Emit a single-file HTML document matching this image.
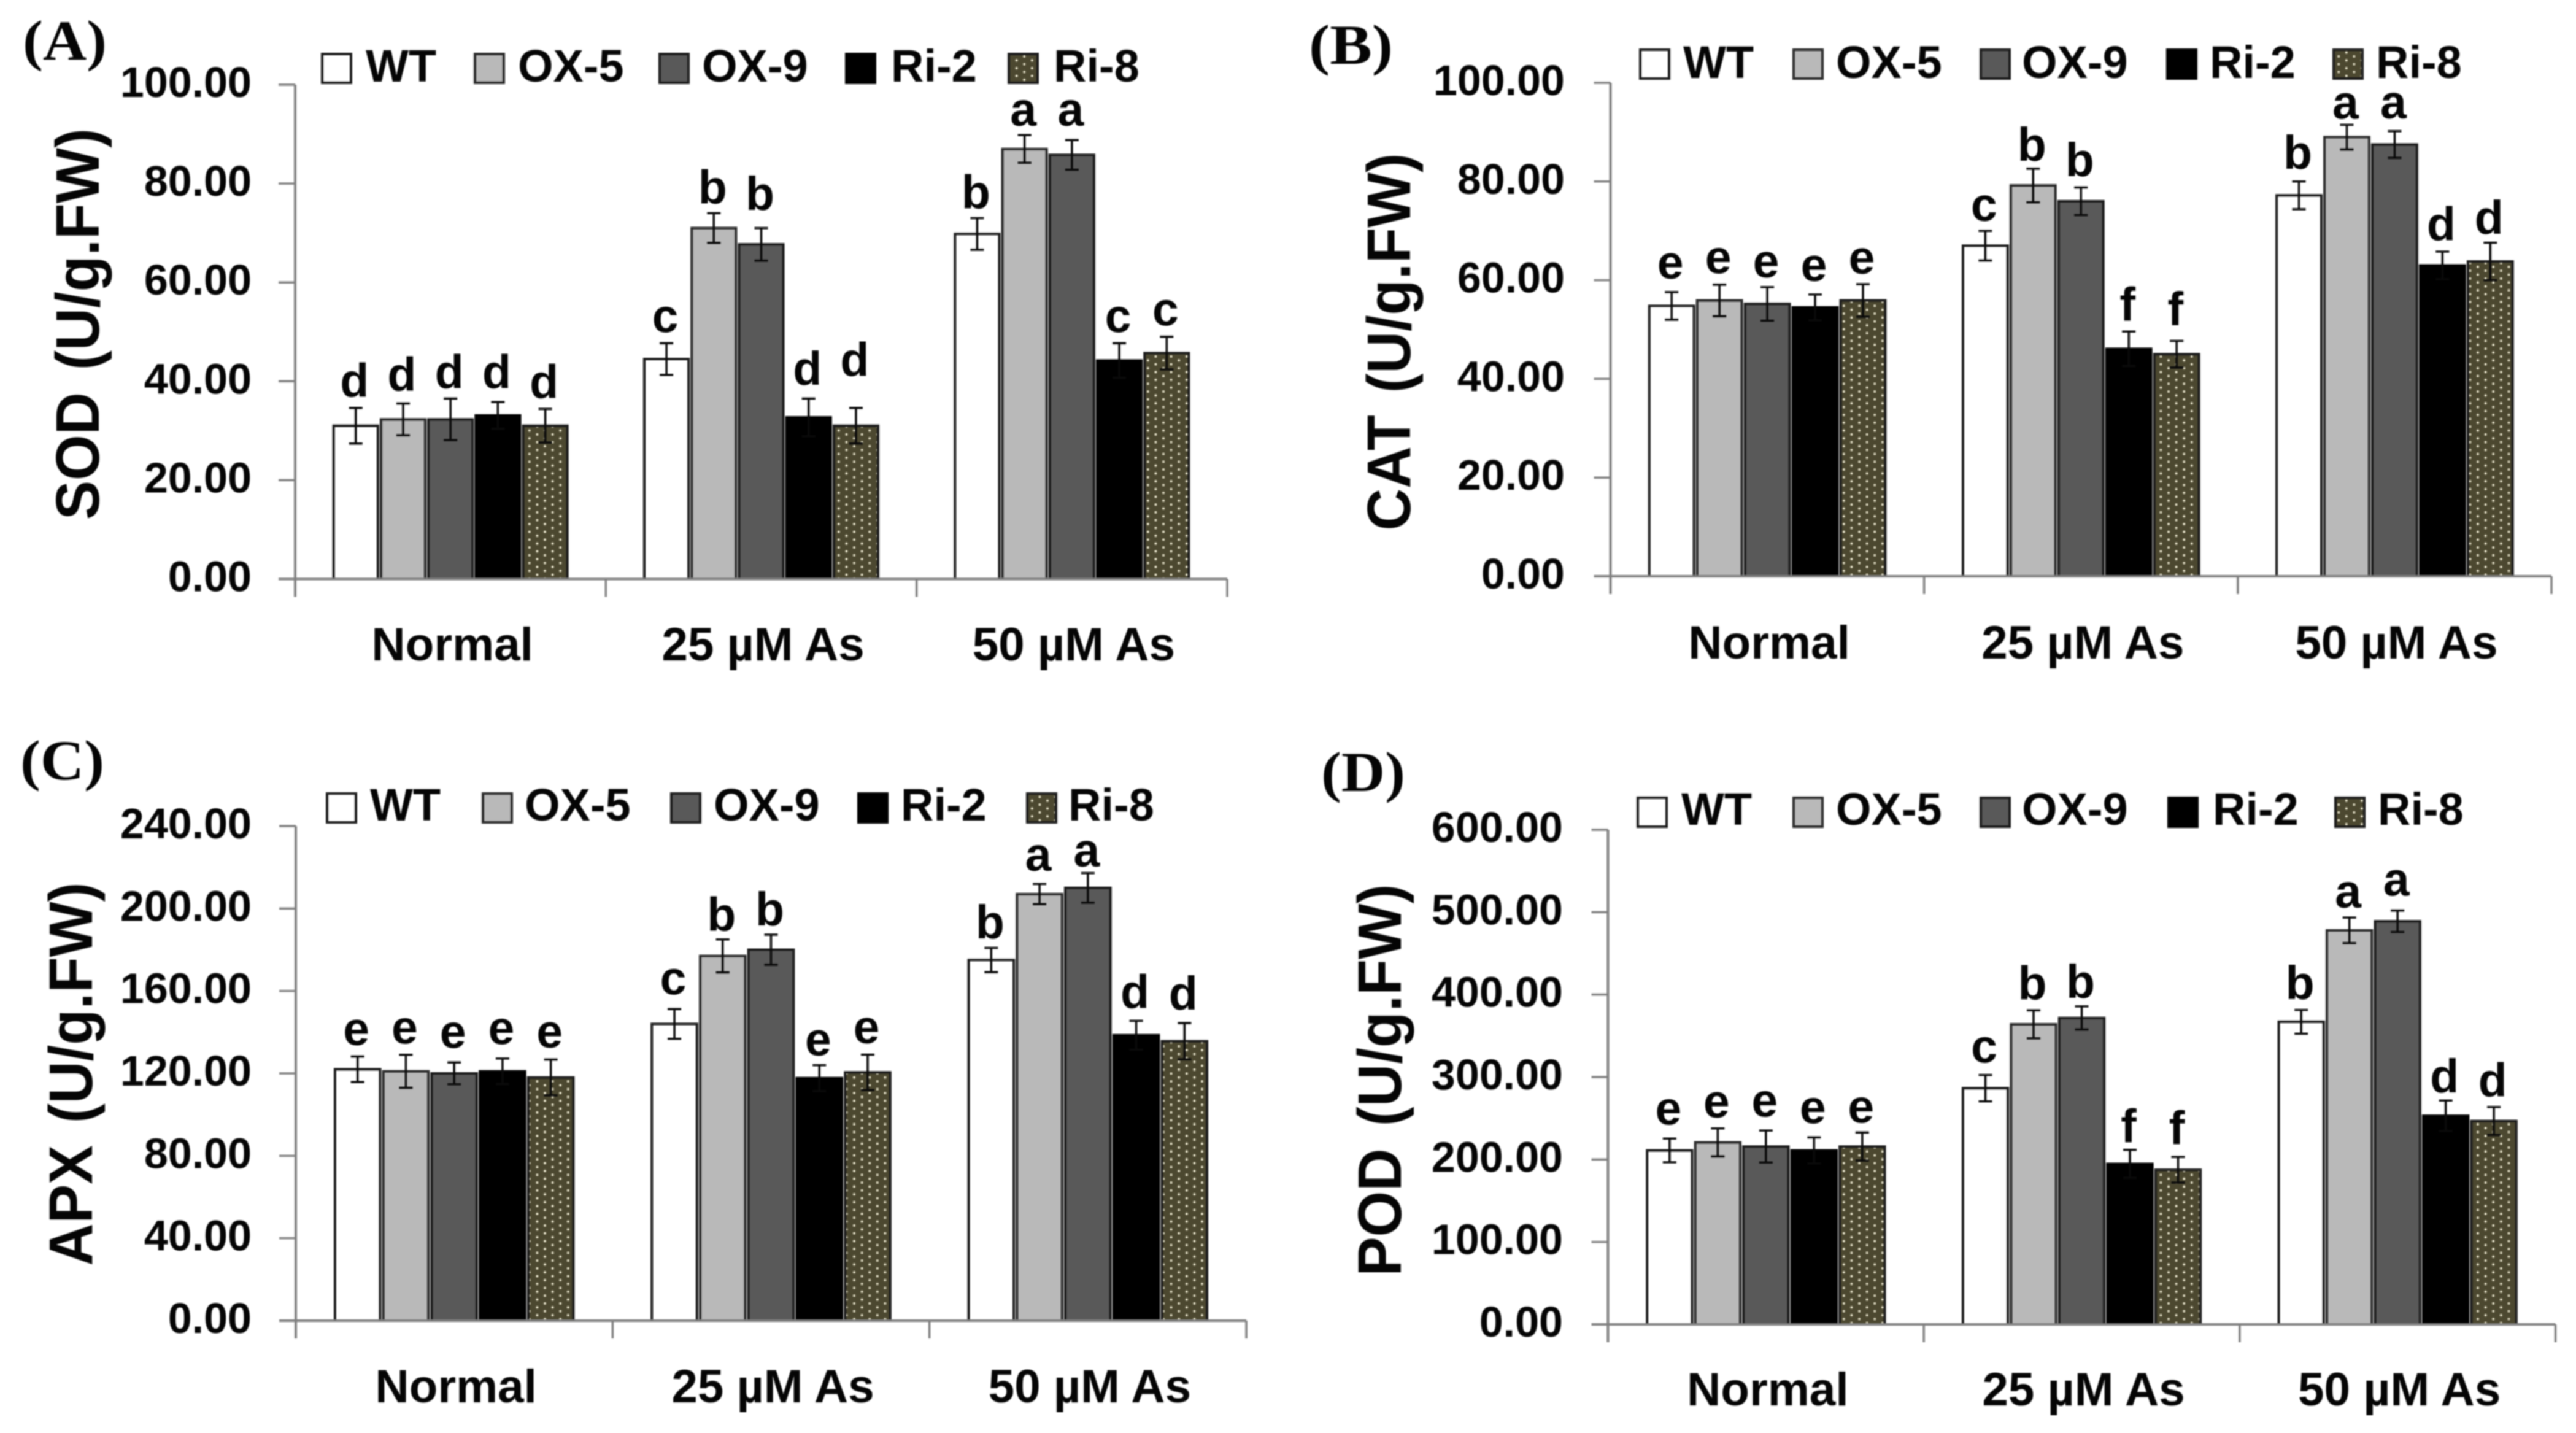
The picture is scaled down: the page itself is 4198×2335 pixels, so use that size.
<!DOCTYPE html>
<html lang="en">
<head>
<meta charset="utf-8">
<title>Antioxidant enzyme activity charts</title>
<style>
html,body{margin:0;padding:0;background:#fff;width:4198px;height:2335px;overflow:hidden}
svg{display:block;filter:blur(1px)}
text{font-family:"Liberation Sans",sans-serif;font-weight:700;fill:#050505}
</style>
</head>
<body>
<svg id="figure" xmlns="http://www.w3.org/2000/svg" width="4198" height="2335" viewBox="0 0 4198 2335">
<defs>
<pattern id="dots" patternUnits="userSpaceOnUse" width="25.2" height="12.7">
<rect width="25.2" height="12.7" fill="#4c4830"/>
<circle cx="6" cy="3" r="1.9" fill="#f4f0d8"/>
<circle cx="18.6" cy="9.35" r="1.9" fill="#f4f0d8"/>
</pattern>
</defs>
</svg>
<script>
const categories = ["Normal", "25 µM As", "50 µM As"];
const seriesNames = ["WT", "OX-5", "OX-9", "Ri-2", "Ri-8"];

const sodTicks = ["0.00", "20.00", "40.00", "60.00", "80.00", "100.00"];
const sodValues = [[31, 32.3, 32.3, 33.1, 31], [44.5, 71, 67.7, 32.7, 31], [69.8, 87, 85.8, 44.2, 45.7]];
const sodErrors = [[3.6, 3.2, 4.2, 2.7, 3.4], [3.2, 3, 3.3, 3.8, 3.6], [3.2, 2.8, 3, 3.5, 3.3]];
const sodLetters = [["d", "d", "d", "d", "d"], ["c", "b", "b", "d", "d"], ["b", "a", "a", "c", "c"]];
const sodClearance = [[2.3, 2.6, 2.1, 2.8, 2.2], [2.2, 2, 3.7, 2.8, 6.5], [2, 1.9, 2.9, 2.2, 2.3]];

const catTicks = ["0.00", "20.00", "40.00", "60.00", "80.00", "100.00"];
const catValues = [[54.8, 55.9, 55.2, 54.5, 55.9], [67, 79.2, 76, 46.1, 45], [77.2, 89, 87.5, 63, 63.8]];
const catErrors = [[2.8, 3.2, 3.4, 2.6, 3.3], [3, 3.4, 2.8, 3.5, 2.7], [2.8, 2.5, 2.7, 2.8, 3.8]];
const catLetters = [["e", "e", "e", "e", "e"], ["c", "b", "b", "f", "f"], ["b", "a", "a", "d", "d"]];
const catClearance = [[2.7, 2.3, 2, 2.7, 2.1], [2, 1.6, 2.3, 2.2, 3.2], [2.6, 1.2, 2.6, 2.3, 1.8]];

const apxTicks = ["0.00", "40.00", "80.00", "120.00", "160.00", "200.00", "240.00"];
const apxValues = [[122, 121, 120, 121, 118], [144, 177, 180, 117.7, 120.5], [175, 207, 210, 138.5, 135.6]];
const apxErrors = [[6.2, 8, 5.3, 6.2, 8.7], [7.2, 8, 7.3, 6.3, 8.6], [5.9, 4.9, 7.2, 7, 8.8]];
const apxLetters = [["e", "e", "e", "e", "e"], ["c", "b", "b", "e", "e"], ["b", "a", "a", "d", "d"]];
const apxClearance = [[5.5, 5.5, 7, 7, 5.8], [7, 4.2, 4.4, 4.6, 5.5], [4.6, 6.4, 3.1, 6.2, 6.6]];

const podTicks = ["0.00", "100.00", "200.00", "300.00", "400.00", "500.00", "600.00"];
const podValues = [[211, 220.7, 215.7, 211, 215.7], [286.5, 364, 371.7, 194.7, 187.5], [367, 478, 489, 253, 246.7]];
const podErrors = [[14.4, 17, 19.4, 15.8, 17], [16, 17, 14, 17, 15.5], [14.4, 15.5, 13, 18.5, 17]];
const podLetters = [["e", "e", "e", "e", "e"], ["c", "b", "b", "f", "f"], ["b", "a", "a", "d", "d"]];
const podClearance = [[17, 13, 17, 17, 12], [15, 13, 10.5, 9, 15.5], [13, 12, 18, 10, 13]];

const fills = ["#ffffff", "#b9b9b9", "#595959", "#000000", "url(#dots)"];
const strokes = ["#1c1c1c", "#2a2a2a", "#1c1c1c", "#000000", "#1c1c1c"];

const panels = [
  {id: "sod", tag: "(A)", title: "SOD (U/g.FW)", ticks: sodTicks, values: sodValues, errors: sodErrors, letters: sodLetters, clearance: sodClearance,
   left: 481, right: 2000, top: 138, base: 943.5, labelRight: 410,
   tagX: 37, tagY: 97, titleX: 161, titleY: 528, titleLen: 638, catY: 1076,
   legendY: 88, legendText: 133, swatchX: [525, 774, 1075, 1379, 1644], legendX: [598, 846, 1146, 1454, 1719]},
  {id: "cat", tag: "(B)", title: "CAT (U/g.FW)", ticks: catTicks, values: catValues, errors: catErrors, letters: catLetters, clearance: catClearance,
   left: 2624.5, right: 4158, top: 135, base: 939, labelRight: 2550,
   tagX: 2133, tagY: 104, titleX: 2298, titleY: 557, titleLen: 615, catY: 1073,
   legendY: 81, legendText: 127, swatchX: [2673, 2923, 3228, 3532, 3803], legendX: [2745, 2994, 3297, 3603, 3874]},
  {id: "apx", tag: "(C)", title: "APX (U/g.FW)", ticks: apxTicks, values: apxValues, errors: apxErrors, letters: apxLetters, clearance: apxClearance,
   left: 482, right: 2031, top: 1346, base: 2152, labelRight: 410,
   tagX: 33, tagY: 1270, titleX: 150, titleY: 1750, titleLen: 625, catY: 2285,
   legendY: 1293, legendText: 1337, swatchX: [533, 787, 1094, 1399, 1674], legendX: [605, 857, 1165, 1470, 1743]},
  {id: "pod", tag: "(D)", title: "POD (U/g.FW)", ticks: podTicks, values: podValues, errors: podErrors, letters: podLetters, clearance: podClearance,
   left: 2620.5, right: 4164.5, top: 1352, base: 2158, labelRight: 2547,
   tagX: 2153, tagY: 1289, titleX: 2283, titleY: 1760, titleLen: 639, catY: 2290,
   legendY: 1300, legendText: 1344, swatchX: [2669, 2923, 3228, 3534, 3806], legendX: [2742, 2994, 3297, 3608, 3877]}
];

const NS = "http://www.w3.org/2000/svg";
const figure = document.getElementById("figure");

function make(tag, parent, attrs, content) {
  const node = document.createElementNS(NS, tag);
  for (const key in attrs) node.setAttribute(key, attrs[key]);
  if (content !== undefined) node.textContent = content;
  parent.appendChild(node);
  return node;
}

function slug(s) {
  return s.toLowerCase().replace(/µ/g, "u").replace(/[^a-z0-9]+/g, "-");
}

panels.forEach(function (p) {
  const yMax = parseFloat(p.ticks[p.ticks.length - 1]);
  const yScale = function (v) { return p.base - (v / yMax) * (p.base - p.top); };
  const catWidth = (p.right - p.left) / categories.length;
  const xCenter = function (c) { return p.left + catWidth * (c + 0.5); };
  const pitch = catWidth * 0.1525;
  const barWidth = catWidth * 0.1425;

  const g = make("g", figure, {});
  
  

  const tagEl = make("text", g, {x: p.tagX, y: p.tagY, "font-size": 92, textLength: 137, lengthAdjust: "spacingAndGlyphs", style: 'font-family:"Liberation Serif",serif'}, p.tag);
  
  

  const title = make("text", g, {x: 0, y: 0, "text-anchor": "middle", "font-size": 100, "word-spacing": 10, textLength: p.titleLen, lengthAdjust: "spacingAndGlyphs", transform: "translate(" + p.titleX + "," + p.titleY + ") rotate(-90)"}, p.title);
  
  

  // bars, whiskers and significance letters
  categories.forEach(function (cat, c) {
    seriesNames.forEach(function (name, s) {
      const v = p.values[c][s];
      const e = p.errors[c][s];
      const cx = xCenter(c) + (s - 2) * pitch;
      const bar = make("rect", g, {x: cx - barWidth / 2, y: yScale(v), width: barWidth, height: p.base - yScale(v), fill: fills[s], stroke: strokes[s], "stroke-width": 4});
      
      

      const whisker = make("path", g, {d: "M" + (cx - 11) + " " + yScale(v + e) + "h22M" + cx + " " + yScale(v + e) + "V" + yScale(v - e) + "M" + (cx - 11) + " " + yScale(v - e) + "h22", fill: "none", stroke: "#0a0a0a", "stroke-width": 3.5});
      
      

      const letter = make("text", g, {x: cx - 2, y: yScale(v + e + p.clearance[c][s]), "text-anchor": "middle", "font-size": 77}, p.letters[c][s]);
      
      
    });
  });

  // axes
  const yAxis = make("line", g, {x1: p.left, x2: p.left, y1: p.top, y2: p.base + 29, stroke: "#808080", "stroke-width": 4});
  
  

  const xAxis = make("line", g, {x1: p.left - 27, x2: p.right, y1: p.base, y2: p.base, stroke: "#808080", "stroke-width": 4});
  
  

  p.ticks.forEach(function (label) {
    const y = yScale(parseFloat(label));
    const tick = make("line", g, {x1: p.left - 27, x2: p.left, y1: y, y2: y, stroke: "#808080", "stroke-width": 3.5});
    
    

    const tickLabel = make("text", g, {x: p.labelRight, y: y + 20, "text-anchor": "end", "font-size": 70}, label);
    
    
  });

  categories.forEach(function (cat, c) {
    const edge = p.left + catWidth * (c + 1);
    const xTick = make("line", g, {x1: edge, x2: edge, y1: p.base, y2: p.base + 29, stroke: "#808080", "stroke-width": 3.5});
    
    

    const catLabel = make("text", g, {x: xCenter(c) + 3, y: p.catY, "text-anchor": "middle", "font-size": 76.5}, cat);
    
    
  });

  // legend
  const legend = make("g", g, {});
  
  
  seriesNames.forEach(function (name, s) {
    const swatch = make("rect", legend, {x: p.swatchX[s], y: p.legendY, width: 47, height: 47, fill: fills[s], stroke: strokes[s], "stroke-width": 4});
    
    

    const entry = make("text", legend, {x: p.legendX[s] - 2, y: p.legendText, "font-size": 74}, name);
    
    
  });
});
</script>
</body>
</html>
